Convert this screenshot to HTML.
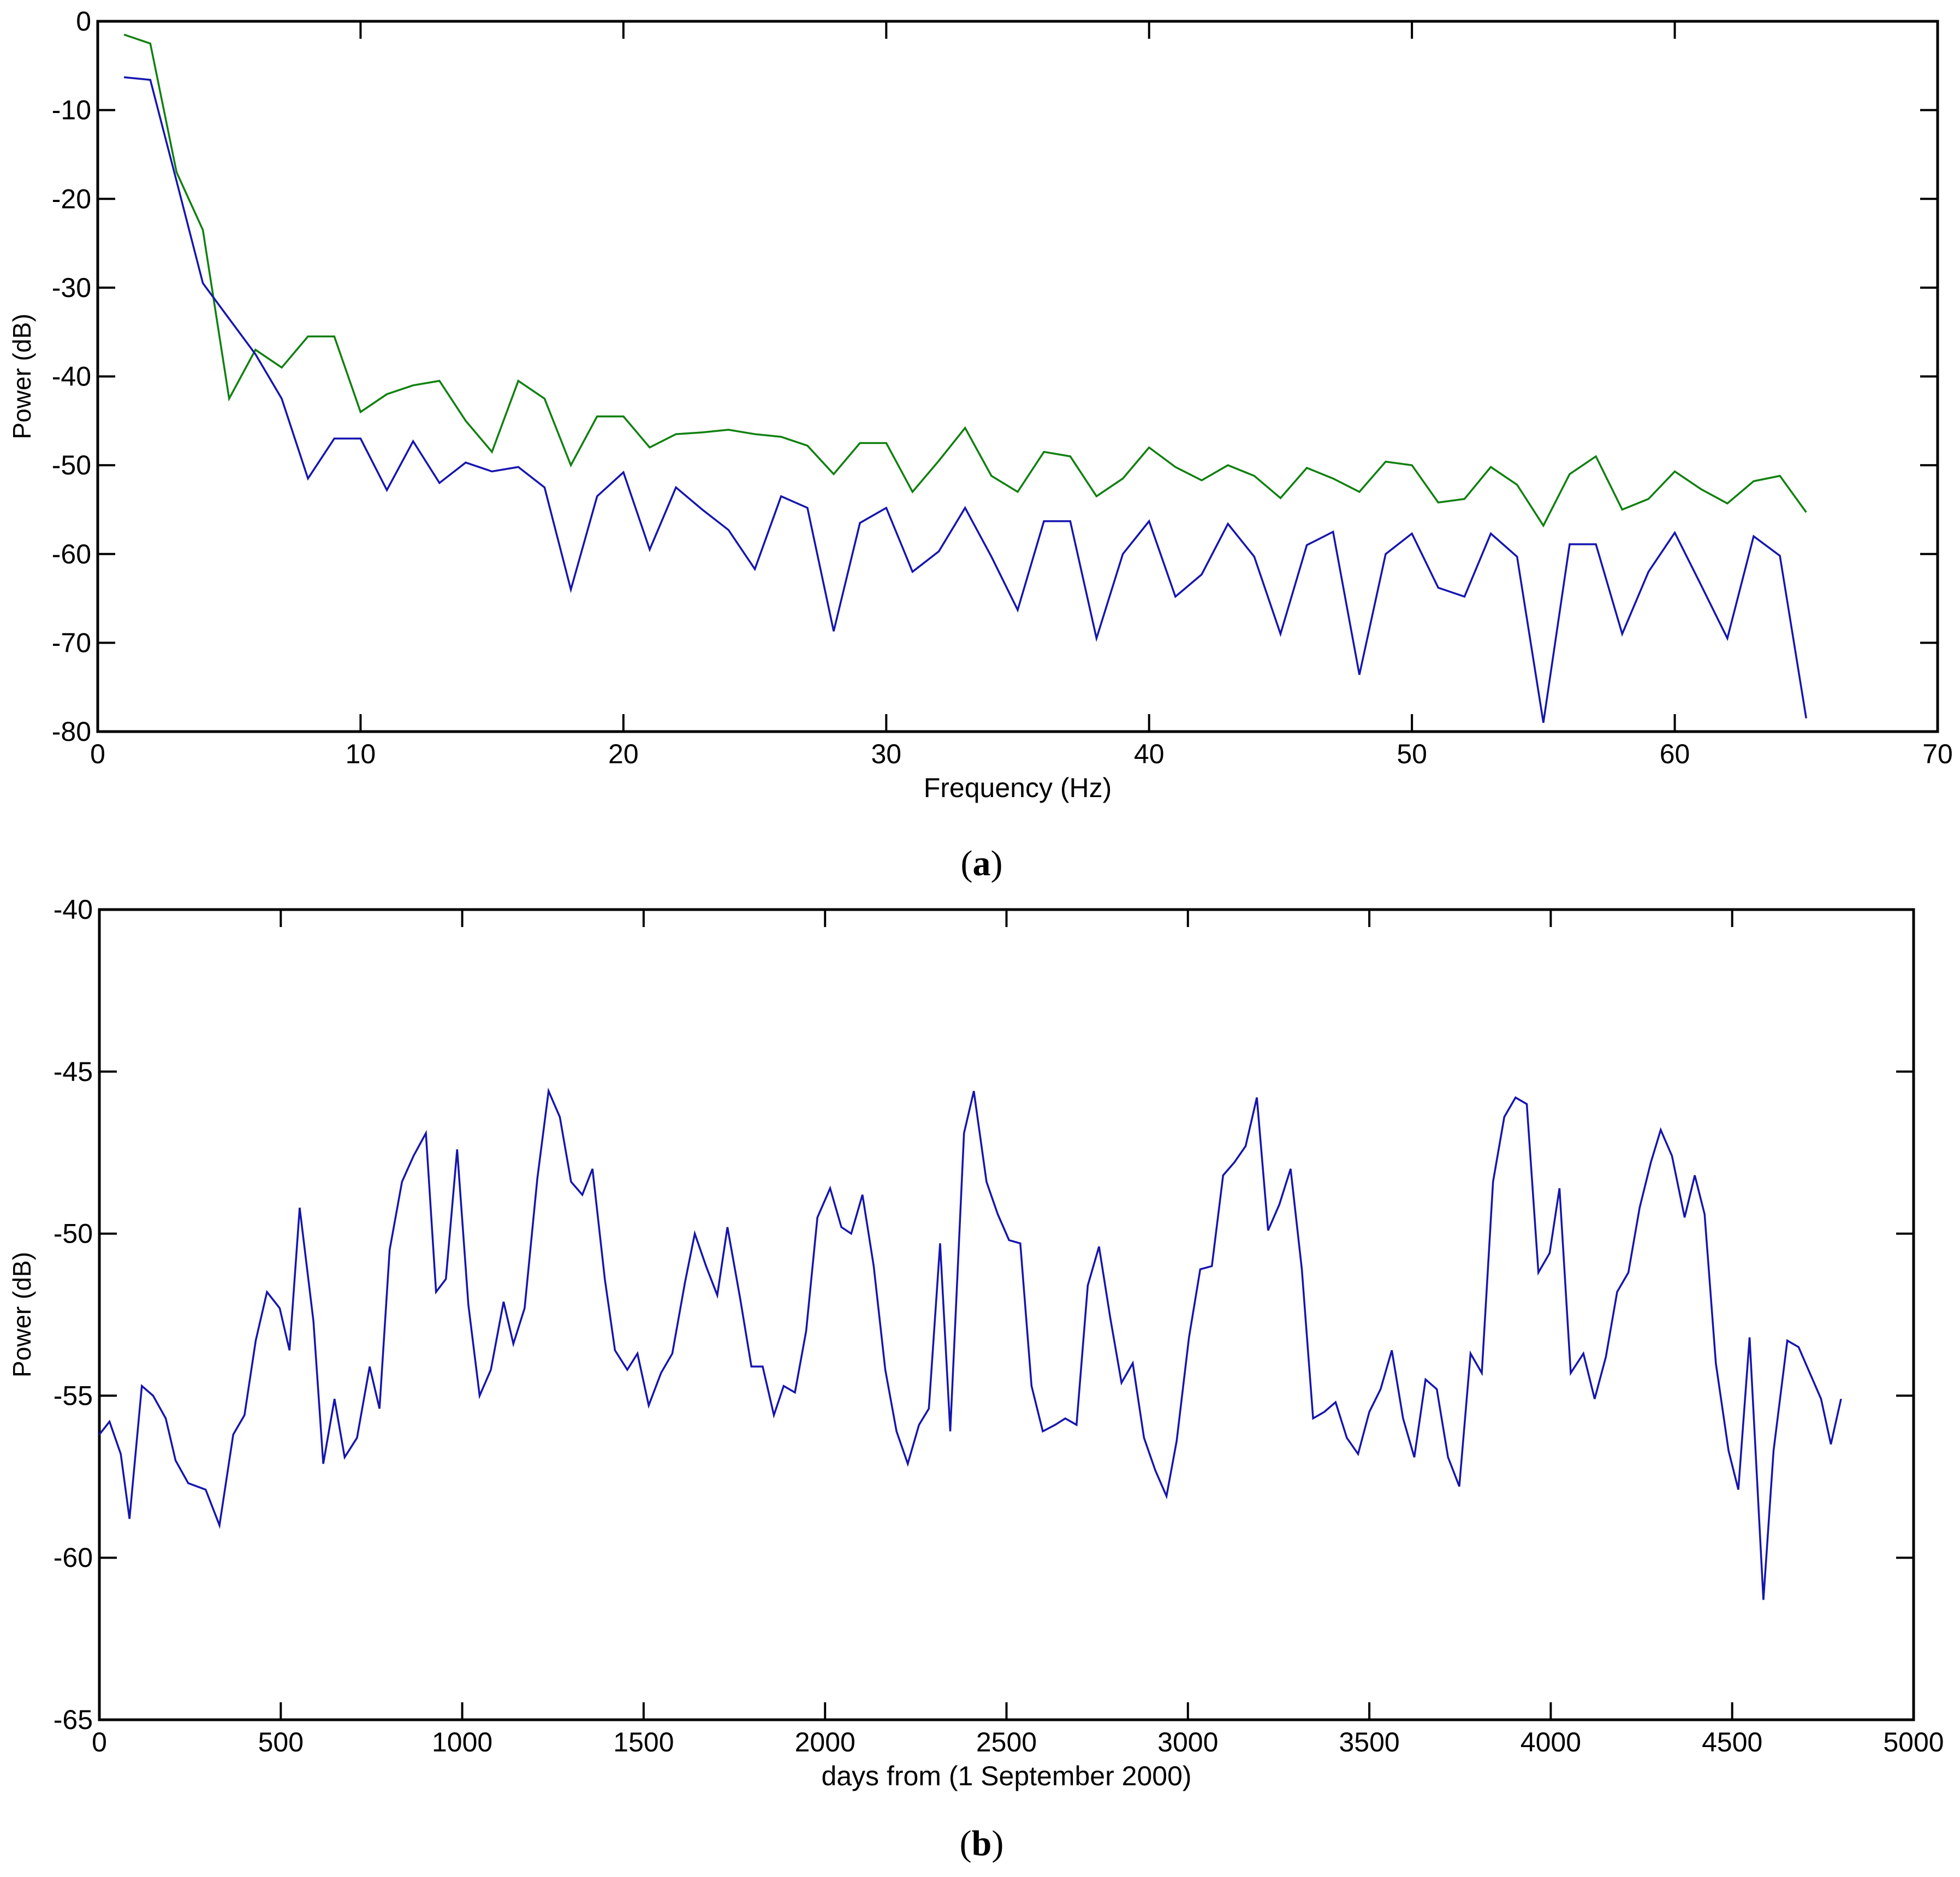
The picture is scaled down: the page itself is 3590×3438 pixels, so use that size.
<!DOCTYPE html>
<html><head><meta charset="utf-8"><style>
html,body{margin:0;padding:0;background:#fff;}
svg{display:block;}
text{font-family:"Liberation Sans",sans-serif;fill:#000;}
</style></head><body>
<svg id="fig" width="3590" height="3438" viewBox="0 0 3590 3438" xmlns="http://www.w3.org/2000/svg">
<rect width="3590" height="3438" fill="#fff"/>
<g id="ga"></g>
<g id="gb"></g>
<text x="1798" y="1603" text-anchor="middle" style="font-family:'Liberation Serif',serif" font-size="66">(<tspan font-weight="bold">a</tspan>)</text>
<text x="1798" y="3398" text-anchor="middle" style="font-family:'Liberation Serif',serif" font-size="66">(<tspan font-weight="bold">b</tspan>)</text>
</svg>
<script>
const freqA = [];
for (let i = 1; i <= 65; i++) freqA.push(i);
const greenA = [-1.5,-2.5,-17,-23.5,-42.5,-37,-39,-35.5,-35.5,-44,-42,-41,-40.5,-45,-48.5,-40.5,-42.5,-50,-44.5,-44.5,-48,-46.5,-46.3,-46,-46.5,-46.8,-47.8,-51,-47.5,-47.5,-53,-49.5,-45.8,-51.2,-53,-48.5,-49,-53.5,-51.5,-48,-50.2,-51.7,-50,-51.2,-53.7,-50.3,-51.5,-53,-49.6,-50,-54.2,-53.8,-50.2,-52.2,-56.8,-51,-49,-55,-53.8,-50.7,-52.7,-54.3,-51.8,-51.2,-55.3];
const blueA = [-6.3,-6.6,-18,-29.5,-33.5,-37.5,-42.5,-51.5,-47,-47,-52.8,-47.3,-52,-49.7,-50.7,-50.2,-52.5,-64,-53.5,-50.8,-59.5,-52.5,-55,-57.3,-61.7,-53.5,-54.8,-68.7,-56.5,-54.8,-62,-59.7,-54.8,-60.3,-66.3,-56.3,-56.3,-69.5,-60,-56.3,-64.8,-62.3,-56.6,-60.3,-69,-59,-57.5,-73.6,-60,-57.7,-63.8,-64.8,-57.7,-60.3,-79,-58.9,-58.9,-69,-62,-57.6,-63.5,-69.5,-58,-60.2,-78.5];
const xTicksA = [0,10,20,30,40,50,60,70];
const yTicksA = [0,-10,-20,-30,-40,-50,-60,-70,-80];

const daysB = [0,28,59,83,117,148,183,210,245,293,331,369,400,431,462,497,524,552,590,617,648,676,710,745,772,800,834,866,900,928,955,986,1017,1048,1079,1114,1141,1172,1207,1238,1269,1300,1331,1359,1393,1421,1455,1483,1514,1548,1579,1614,1641,1672,1703,1731,1766,1797,1828,1859,1886,1917,1948,1979,2014,2045,2072,2103,2134,2166,2197,2228,2259,2286,2317,2345,2383,2410,2445,2476,2507,2538,2569,2600,2634,2662,2693,2724,2755,2786,2817,2848,2879,2910,2941,2969,3003,3034,3066,3097,3128,3159,3190,3221,3252,3283,3314,3345,3376,3407,3438,3469,3500,3531,3562,3593,3624,3655,3686,3717,3748,3779,3810,3841,3872,3903,3934,3966,3997,4024,4055,4090,4121,4152,4183,4214,4245,4276,4303,4334,4369,4397,4424,4455,4490,4517,4548,4586,4614,4652,4683,4714,4745,4772,4800];
const powerB = [-56.2,-55.8,-56.8,-58.8,-54.7,-55,-55.7,-57,-57.7,-57.9,-59,-56.2,-55.6,-53.3,-51.8,-52.3,-53.6,-49.2,-52.7,-57.1,-55.1,-56.9,-56.3,-54.1,-55.4,-50.5,-48.4,-47.6,-46.9,-51.8,-51.4,-47.4,-52.2,-55,-54.2,-52.1,-53.4,-52.3,-48.3,-45.6,-46.4,-48.4,-48.8,-48,-51.4,-53.6,-54.2,-53.7,-55.3,-54.3,-53.7,-51.5,-50,-51,-51.9,-49.8,-52,-54.1,-54.1,-55.6,-54.7,-54.9,-53,-49.5,-48.6,-49.8,-50,-48.8,-51,-54.2,-56.1,-57.1,-55.9,-55.4,-50.3,-56.1,-46.9,-45.6,-48.4,-49.4,-50.2,-50.3,-54.7,-56.1,-55.9,-55.7,-55.9,-51.6,-50.4,-52.6,-54.6,-54,-56.3,-57.3,-58.1,-56.4,-53.2,-51.1,-51,-48.2,-47.8,-47.3,-45.8,-49.9,-49.1,-48,-51.1,-55.7,-55.5,-55.2,-56.3,-56.8,-55.5,-54.8,-53.6,-55.7,-56.9,-54.5,-54.8,-56.9,-57.8,-53.7,-54.3,-48.4,-46.4,-45.8,-46,-51.2,-50.6,-48.6,-54.3,-53.7,-55.1,-53.8,-51.8,-51.2,-49.2,-47.8,-46.8,-47.6,-49.5,-48.2,-49.4,-54,-56.7,-57.9,-53.2,-61.3,-56.7,-53.3,-53.5,-54.3,-55.1,-56.5,-55.1];
const xTicksB = [0,500,1000,1500,2000,2500,3000,3500,4000,4500,5000];
const yTicksB = [-40,-45,-50,-55,-60,-65];

const NS = "http://www.w3.org/2000/svg";
function mk(parent, tag, attrs, txt){
  const e = document.createElementNS(NS, tag);
  for (const k in attrs) e.setAttribute(k, attrs[k]);
  if (txt !== undefined) e.textContent = txt;
  parent.appendChild(e);
  return e;
}

function drawChart(g, box, xdom, ydom, xTicks, yTicks, series, xTitle, yTitle, prefix){
  const sx = v => box.l + (v - xdom[0]) / (xdom[1] - xdom[0]) * (box.r - box.l);
  const sy = v => box.t + (ydom[1] - v) / (ydom[1] - ydom[0]) * (box.b - box.t);
  const TL = 32;
  const frame = mk(g, "rect", {x: box.l, y: box.t, width: box.r - box.l, height: box.b - box.t, fill: "none", stroke: "#000", "stroke-width": 5});
  
  
  xTicks.forEach(v => {
    const x = sx(v);
    const t1 = mk(g, "line", {x1: x, x2: x, y1: box.b, y2: box.b - TL, stroke: "#000", "stroke-width": 4});
    
    
    const t2 = mk(g, "line", {x1: x, x2: x, y1: box.t, y2: box.t + TL, stroke: "#000", "stroke-width": 4});
    
    
    const lb = mk(g, "text", {x: x, y: box.b + 58, "text-anchor": "middle", "font-size": 50}, String(v));
    
    
  });
  yTicks.forEach(v => {
    const y = sy(v);
    const t1 = mk(g, "line", {x1: box.l, x2: box.l + TL, y1: y, y2: y, stroke: "#000", "stroke-width": 4});
    
    
    const t2 = mk(g, "line", {x1: box.r, x2: box.r - TL, y1: y, y2: y, stroke: "#000", "stroke-width": 4});
    
    
    const lb = mk(g, "text", {x: box.l - 12, y: y + 17, "text-anchor": "end", "font-size": 50}, String(v));
    
    
  });
  series.forEach(s => {
    const pts = s.x.map((xv, i) => sx(xv).toFixed(1) + "," + sy(s.y[i]).toFixed(1)).join(" ");
    const pl = mk(g, "polyline", {points: pts, fill: "none", stroke: s.color, "stroke-width": 3.5, "stroke-linejoin": "miter"});
    
    
  });
  const xt = mk(g, "text", {x: (box.l + box.r) / 2, y: box.b + 120, "text-anchor": "middle", "font-size": 50}, xTitle);
  
  
  const cy = (box.t + box.b) / 2;
  const yt = mk(g, "text", {x: 56, y: cy, "text-anchor": "middle", "font-size": 46, transform: "rotate(-90 56 " + cy + ")"}, yTitle);
  
  
}

drawChart(document.getElementById("ga"), {l: 179, r: 3549, t: 39, b: 1340}, [0, 70], [-80, 0], xTicksA, yTicksA,
  [{x: freqA, y: greenA, color: "#108010", name: "green-series-line"},
   {x: freqA, y: blueA, color: "#1515b0", name: "blue-series-line"}],
  "Frequency (Hz)", "Power (dB)", "a");

drawChart(document.getElementById("gb"), {l: 182, r: 3505, t: 1666, b: 3150}, [0, 5000], [-65, -40], xTicksB, yTicksB,
  [{x: daysB, y: powerB, color: "#1515b0", name: "power-series-line"}],
  "days from (1 September 2000)", "Power (dB)", "b");
</script>
</body></html>
